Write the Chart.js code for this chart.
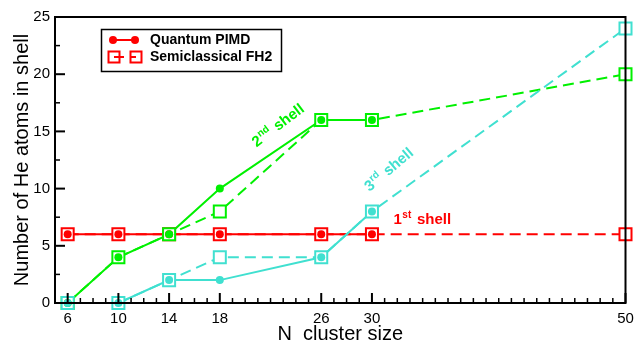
<!DOCTYPE html>
<html>
<head>
<meta charset="utf-8">
<script src="https://cdn.jsdelivr.net/npm/chart.js@4.4.1/dist/chart.umd.min.js"></script>
<style>
  html, body { margin: 0; padding: 0; background: #fff; }
</style>
</head>
<body>
<canvas id="shellChart" width="636" height="344"></canvas>
<script>
// Data
const clusterSizes = [6, 10, 14, 18, 26, 30, 50];
const xTickValues = [6, 10, 14, 18, 26, 30, 50];

// Quantum PIMD (solid, filled circles)
const pimdFirst  = [6, 6, 6, 6, 6, 6, null];
const pimdSecond = [0, 4, 6, 10, 16, 16, null];
const pimdThird  = [0, 0, 2, 2, 4, 8, null];

// Semiclassical FH2 (dashed, open squares)
const fh2First  = [6, 6, 6, 6, 6, 6, 6];
const fh2Second = [0, 4, 6, 8, 16, 16, 20];
const fh2Third  = [0, 0, 2, 4, 4, 8, 24];

const RED = '#ff0000', GREEN = '#00f000', CYAN = '#40e0d0';
const FONT = "'Liberation Sans', Arial, Helvetica, sans-serif";

const pts = (vals) => clusterSizes.map((n, i) => ({ x: n, y: vals[i] }));

// lines first, then squares, then dots; red under green under cyan
const lineSet = (vals, color, dashed, order) => ({
    data: pts(vals), borderColor: color, borderWidth: 2, borderDash: dashed ? [11, 6] : [],
    pointRadius: 0, fill: false, tension: 0, clip: false, order
});
const squareSet = (vals, color, order) => ({
    data: pts(vals), showLine: false, pointStyle: 'rect', pointRadius: 8.5,
    pointBorderColor: color, pointBackgroundColor: '#fff', pointBorderWidth: 2, clip: false, order
});
const dotSet = (vals, color, order) => ({
    data: pts(vals), showLine: false, pointStyle: 'circle', pointRadius: 4,
    pointBorderColor: color, pointBackgroundColor: color, pointBorderWidth: 0, clip: false, order
});

const datasets = [
    lineSet(pimdFirst, RED, false, 12), lineSet(fh2First, RED, true, 11),
    lineSet(pimdSecond, GREEN, false, 10), lineSet(fh2Second, GREEN, true, 9),
    lineSet(pimdThird, CYAN, false, 8), lineSet(fh2Third, CYAN, true, 7),
    squareSet(fh2First, RED, 6), squareSet(fh2Second, GREEN, 5), squareSet(fh2Third, CYAN, 4),
    dotSet(pimdFirst, RED, 3), dotSet(pimdSecond, GREEN, 2), dotSet(pimdThird, CYAN, 1)
];

function shellLabel(ctx, px, py, angle, num, sup, color) {
    ctx.save();
    ctx.translate(px, py);
    ctx.rotate(angle);
    ctx.fillStyle = color;
    ctx.textAlign = 'left';
    ctx.textBaseline = 'alphabetic';
    ctx.font = `bold 15px ${FONT}`;
    ctx.fillText(num, 0, 0);
    let w = ctx.measureText(num).width + 0.5;
    ctx.font = `bold 10px ${FONT}`;
    ctx.fillText(sup, w, -6);
    w += ctx.measureText(sup).width + 1.5;
    ctx.font = `bold 15px ${FONT}`;
    ctx.fillText(' shell', w, 0);
    ctx.restore();
}

const decorations = {
    id: 'decorations',
    afterDatasetsDraw(chart) {
        const { ctx, chartArea: a, scales: { x, y } } = chart;
        ctx.save();
        // frame
        ctx.strokeStyle = '#000';
        ctx.lineWidth = 2;
        ctx.strokeRect(a.left, a.top, a.right - a.left, a.bottom - a.top);
        // inward ticks
        for (let v = 5; v <= 50; v++) {
            const px = x.getPixelForValue(v);
            const len = xTickValues.includes(v) ? 10 : 5;
            ctx.lineWidth = len > 5 ? 2 : 1.5;
            ctx.beginPath(); ctx.moveTo(px, a.bottom); ctx.lineTo(px, a.bottom - len); ctx.stroke();
        }
        for (let v = 0; v <= 25; v += 2.5) {
            const py = y.getPixelForValue(v);
            const len = v % 5 === 0 ? 10 : 5;
            ctx.lineWidth = len > 5 ? 2 : 1.5;
            ctx.beginPath(); ctx.moveTo(a.left, py); ctx.lineTo(a.left + len, py); ctx.stroke();
        }

        // legend
        ctx.lineWidth = 1.5;
        ctx.strokeRect(101.5, 29.5, 180, 42);
        ctx.strokeStyle = RED; ctx.fillStyle = RED; ctx.lineWidth = 2;
        ctx.beginPath(); ctx.moveTo(113, 40); ctx.lineTo(135, 40); ctx.stroke();
        [113, 135].forEach(cx => { ctx.beginPath(); ctx.arc(cx, 40, 4, 0, Math.PI * 2); ctx.fill(); });
        ctx.setLineDash([10, 6]);
        ctx.beginPath(); ctx.moveTo(114, 57); ctx.lineTo(136, 57); ctx.stroke();
        ctx.setLineDash([]);
        [114, 136].forEach(cx => ctx.strokeRect(cx - 5.5, 51.5, 11, 11));
        ctx.fillStyle = '#000';
        ctx.font = `bold 14px ${FONT}`;
        ctx.textAlign = 'left'; ctx.textBaseline = 'middle';
        ctx.fillText('Quantum PIMD', 150, 40);
        ctx.fillText('Semiclassical FH2', 150, 57);

        // shell labels
        shellLabel(ctx, x.getPixelForValue(20.9), y.getPixelForValue(13.6), -37 * Math.PI / 180, '2', 'nd', GREEN);
        shellLabel(ctx, x.getPixelForValue(29.8), y.getPixelForValue(9.7), -40 * Math.PI / 180, '3', 'rd', CYAN);
        shellLabel(ctx, x.getPixelForValue(31.7), y.getPixelForValue(6.9), 0, '1', 'st', RED);
        ctx.restore();
    }
};

const shellChart = new Chart(document.getElementById('shellChart').getContext('2d'), {
    type: 'line',
    data: { datasets },
    options: {
        animation: false, responsive: false,
        layout: { padding: { top: 17, right: 10, left: 0, bottom: 0 } },
        plugins: { legend: { display: false }, tooltip: { enabled: false } },
        scales: {
            x: {
                type: 'linear', min: 5, max: 50,
                afterFit: s => { s.height = 41; s.paddingLeft = 0; s.paddingRight = 0; },
                afterBuildTicks: s => { s.ticks = xTickValues.map(v => ({ value: v })); },
                grid: { display: false, drawTicks: false },
                border: { display: false },
                ticks: { color: '#000', padding: 7, autoSkip: false, maxRotation: 0, font: { family: FONT, size: 15 } },
                title: { display: true, text: 'N  cluster size', color: '#000', padding: { top: 0, bottom: 0 }, font: { family: FONT, size: 20, lineHeight: 1 } }
            },
            y: {
                min: 0, max: 25,
                afterFit: s => { s.width = 55; },
                grid: { display: false, drawTicks: false },
                border: { display: false },
                ticks: { stepSize: 5, color: '#000', padding: 5, font: { family: FONT, size: 15 } },
                title: { display: true, text: 'Number of He atoms in shell', color: '#000', padding: { top: 10, bottom: 0 }, font: { family: FONT, size: 20 } }
            }
        }
    },
    plugins: [decorations]
});
</script>
</body>
</html>
